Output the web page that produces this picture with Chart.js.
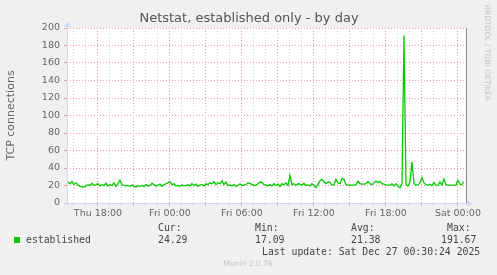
<!DOCTYPE html>
<html>
<head>
<meta charset="utf-8">
<script src="https://cdn.jsdelivr.net/npm/chart.js@4.4.1/dist/chart.umd.min.js"></script>
<style>
  html, body { margin: 0; padding: 0; background: #F0F0F0; }
  #wrap { width: 497px; height: 275px; }
</style>
</head>
<body>
<div id="wrap"><canvas id="netstatChart" width="497" height="275"></canvas></div>
<script>
// samples every 10 minutes, hours counted from Thu 00:00
const startHour = 15.5;
const stepHours = 1 / 6;
const established = [
    24, 22, 24.5, 21, 23, 20.5, 19, 18.5, 18.5, 19.5, 21, 20, 22.5, 20, 21, 22, 19.5,
    21, 20, 22.5, 19.5, 21, 20, 23, 19, 22, 26,
    21, 20, 19.5, 20, 19, 20.5, 19, 18.5, 19.5, 19, 20, 19, 21, 19.5, 20, 22.5,
    21, 19.5, 20, 21.5, 19, 21, 22, 23, 24.5, 21, 22, 19.5, 20, 19, 20.5, 19.5,
    20, 21, 19.5, 22, 20, 21.5, 19, 20.5, 21, 19.5, 22, 21, 23, 22, 24.5, 21, 23,
    22, 25.5, 21, 24, 20, 20.5, 19.5, 21, 19, 20, 22,
    20, 20.5, 21, 23, 22.5, 21, 20, 20.5, 22, 24, 23.5, 21, 20.5, 19.5,
    21, 19.5, 22, 20, 21.5, 19, 22, 21, 23, 20, 31.5, 21, 22, 20, 22, 21.5, 20,
    22.5, 20, 21, 19.5, 22, 20, 17.5, 21, 25.5, 27, 24, 22,
    24, 23.5, 20.5, 21, 27, 23, 22, 28, 27.5, 21, 20.5, 20.5, 20.5, 20.5, 21,
    25, 22, 21.5, 21.5, 22, 24.5, 22, 21, 23, 25, 23.5, 24.5, 22, 21.5, 20.5,
    20.5, 20.5, 22, 19.5, 22, 19, 17.5, 22, 191.67, 21, 19.5, 24, 47, 22, 20.5,
    21, 23, 29, 23, 21, 20.5, 21.5, 20, 23.5, 20, 20.5, 24, 20.5, 27.5, 21,
    20.5, 20.5, 20.5, 20.5, 20.5, 26, 21.5, 21, 24.29
];

const xMinHour = 15.42;
const xMaxHour = 48.67;
const labelHours = [18, 24, 30, 36, 42, 48];
const labelTexts = ['Thu 18:00', 'Fri 00:00', 'Fri 06:00', 'Fri 12:00', 'Fri 18:00', 'Sat 00:00'];
const gridHours = [16, 17, 18, 19, 20, 21, 22, 23, 24, 25, 26, 27, 28, 29, 30, 31, 32,
    33, 34, 35, 36, 37, 38, 39, 40, 41, 42, 43, 44, 45, 46, 47, 48];

const yMax = 200;
const yStep = 10;

const legendHeads = ['Cur:', 'Min:', 'Avg:', 'Max:'];
const legendValues = ['24.29', '17.09', '21.38', '191.67'];
const seriesName = 'established';
const lastUpdate = 'Last update: Sat Dec 27 00:30:24 2025';

const GREEN = '#00CC00';
const AXIS = '#CFD6F8';
const MGRID = '#EE9C9C';
const GRID = '#D4D4D4';
const FONT = '#666666';

const muninFrame = {
    id: 'muninFrame',
    beforeDraw(chart) {
        const { ctx, chartArea: a } = chart;
        ctx.save();
        ctx.fillStyle = '#F0F0F0';
        ctx.fillRect(0, 0, chart.width, chart.height);
        ctx.fillStyle = '#FFFFFF';
        ctx.fillRect(a.left, a.top, a.right - a.left, a.bottom - a.top);
        ctx.restore();
    },
    afterDraw(chart) {
        const { ctx, chartArea: a } = chart;
        ctx.save();

        // right edge rule
        ctx.strokeStyle = '#8a8a8a';
        ctx.lineWidth = 1;
        ctx.beginPath();
        ctx.moveTo(a.right + 0.5, a.top);
        ctx.lineTo(a.right + 0.5, a.bottom);
        ctx.stroke();

        // axes with arrows
        ctx.strokeStyle = AXIS;
        ctx.fillStyle = AXIS;
        ctx.beginPath();
        ctx.moveTo(a.left + 0.5, a.bottom + 2);
        ctx.lineTo(a.left + 0.5, a.top - 2);
        ctx.moveTo(a.left - 2, a.bottom + 0.5);
        ctx.lineTo(a.right + 2, a.bottom + 0.5);
        ctx.stroke();
        ctx.beginPath();
        ctx.moveTo(a.left + 0.5, a.top - 7);
        ctx.lineTo(a.left - 2.5, a.top - 1);
        ctx.lineTo(a.left + 3.5, a.top - 1);
        ctx.closePath();
        ctx.fill();
        ctx.beginPath();
        ctx.moveTo(a.right + 7, a.bottom + 0.5);
        ctx.lineTo(a.right + 1, a.bottom - 2.5);
        ctx.lineTo(a.right + 1, a.bottom + 3.5);
        ctx.closePath();
        ctx.fill();

        // title
        ctx.fillStyle = '#555555';
        ctx.font = '13px "DejaVu Sans"';
        ctx.textAlign = 'center';
        ctx.textBaseline = 'middle';
        ctx.fillText('Netstat, established only - by day', 249, 19);

        // watermark
        ctx.fillStyle = '#C4C4C4';
        ctx.font = '7.5px "DejaVu Sans"';
        ctx.fillText('Munin 2.0.76', 248, 264);
        ctx.translate(487, 53);
        ctx.rotate(Math.PI / 2);
        ctx.fillText('RRDTOOL / TOBI OETIKER', 0, 0);
        ctx.setTransform(1, 0, 0, 1, 0, 0);

        // legend
        ctx.fillStyle = GREEN;
        ctx.fillRect(14, 237, 6, 6);
        ctx.fillStyle = '#444444';
        ctx.font = '9.8px "DejaVu Sans Mono"';
        ctx.textAlign = 'left';
        ctx.fillText(seriesName, 26, 240);
        const headX = [158, 255, 351, 447];
        const valX = [158, 255, 351, 441];
        legendHeads.forEach((h, i) => ctx.fillText(h, headX[i], 228));
        legendValues.forEach((v, i) => ctx.fillText(v, valX[i], 240));
        ctx.fillText(lastUpdate, 262, 252);

        ctx.restore();
    }
};

const isMajorX = c => c.tick && Math.round(c.tick.value) % 3 === 0;
const isMajorY = c => c.tick && Math.round(c.tick.value) % 20 === 0;

const ctx = document.getElementById('netstatChart').getContext('2d');
new Chart(ctx, {
    type: 'line',
    data: {
        datasets: [{
            label: seriesName,
            data: established.map((v, i) => ({ x: startHour + i * stepHours, y: v })),
            borderColor: GREEN,
            borderWidth: 1.3,
            pointRadius: 0,
            tension: 0,
            fill: false
        }]
    },
    options: {
        responsive: false,
        animation: false,
        events: [],
        layout: { padding: { top: 28, right: 31, left: 0, bottom: 0 } },
        plugins: { legend: { display: false }, tooltip: { enabled: false } },
        scales: {
            x: {
                type: 'linear',
                min: xMinHour,
                max: xMaxHour,
                afterBuildTicks: s => { s.ticks = gridHours.map(h => ({ value: h })); },
                afterFit: s => { s.height = 72; s.paddingLeft = 0; s.paddingRight = 0; },
                grid: {
                    color: c => (isMajorX(c) ? MGRID : GRID),
                    tickColor: c => (isMajorX(c) ? MGRID : GRID),
                    tickLength: 3,
                    lineWidth: 1
                },
                border: { display: false, dash: [1, 2] },
                ticks: {
                    autoSkip: false,
                    maxRotation: 0,
                    padding: 2,
                    color: FONT,
                    font: { family: 'DejaVu Sans', size: 9.5 },
                    callback: v => {
                        const k = labelHours.indexOf(v);
                        return k >= 0 ? labelTexts[k] : '';
                    }
                }
            },
            y: {
                min: 0,
                max: yMax,
                afterFit: s => { s.width = 67; s.paddingTop = 0; s.paddingBottom = 0; },
                grid: {
                    color: c => (isMajorY(c) ? MGRID : GRID),
                    tickColor: c => (isMajorY(c) ? MGRID : GRID),
                    tickLength: 3,
                    lineWidth: 1
                },
                border: { display: false, dash: [1, 2] },
                title: {
                    display: true,
                    text: 'TCP connections',
                    color: FONT,
                    font: { family: 'DejaVu Sans', size: 11 },
                    padding: { top: 5, bottom: 0 }
                },
                ticks: {
                    stepSize: yStep,
                    padding: 4,
                    color: FONT,
                    font: { family: 'DejaVu Sans', size: 9.5 },
                    callback: v => (v % 20 === 0 ? String(v) : '')
                }
            }
        }
    },
    plugins: [muninFrame]
});
</script>
</body>
</html>
